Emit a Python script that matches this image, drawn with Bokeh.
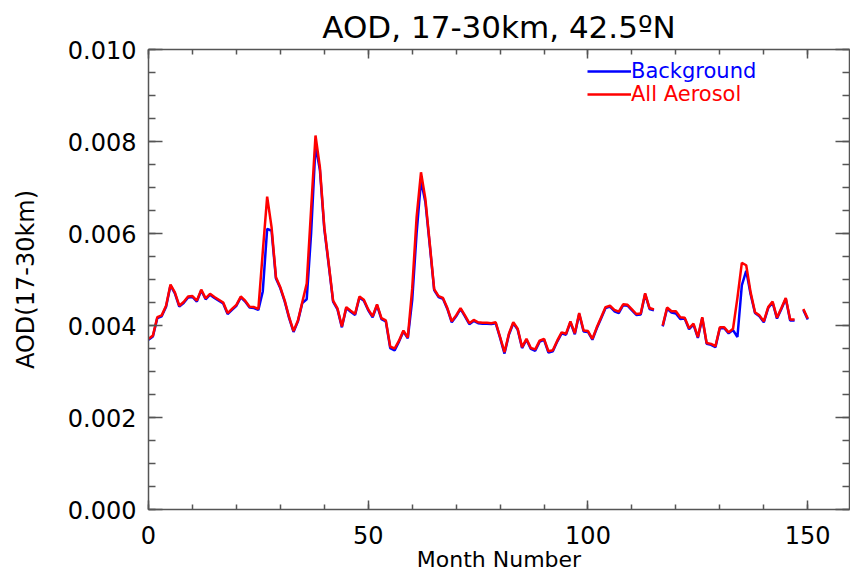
from bokeh.plotting import figure
from bokeh.models import (LinearAxis, Range1d, NumeralTickFormatter, SingleIntervalTicker,
                          Legend, LegendItem)
from bokeh.embed import file_html
from bokeh.resources import INLINE

nan = float("nan")

months = list(range(0, 151))

all_aerosol = [
    0.00371, 0.00378, 0.00418, 0.00422, 0.00443, 0.00489, 0.00472, 0.00443, 0.00451, 0.00463,
    0.00464, 0.00454, 0.00478, 0.00459, 0.00469, 0.00462, 0.00456, 0.00450, 0.00427, 0.00436,
    0.00445, 0.00463, 0.00454, 0.00441, 0.00440, 0.00436, 0.00560, 0.00680, 0.00614, 0.00505,
    0.00483, 0.00454, 0.00418, 0.00388, 0.00411, 0.00451, 0.00491, 0.00653, 0.00813, 0.00744,
    0.00614, 0.00535, 0.00454, 0.00437, 0.00398, 0.00440, 0.00432, 0.00425, 0.00463, 0.00456,
    0.00435, 0.00420, 0.00446, 0.00416, 0.00411, 0.00354, 0.00350, 0.00367, 0.00389, 0.00374,
    0.00480, 0.00635, 0.00733, 0.00675, 0.00578, 0.00479, 0.00464, 0.00460, 0.00438, 0.00409,
    0.00422, 0.00438, 0.00422, 0.00405, 0.00412, 0.00407, 0.00406, 0.00406, 0.00405, 0.00407,
    0.00375, 0.00342, 0.00382, 0.00407, 0.00393, 0.00353, 0.00371, 0.00351, 0.00348, 0.00367,
    0.00371, 0.00344, 0.00346, 0.00367, 0.00385, 0.00382, 0.00409, 0.00383, 0.00427, 0.00389,
    0.00388, 0.00371, 0.00396, 0.00418, 0.00440, 0.00443, 0.00434, 0.00430, 0.00446, 0.00445,
    0.00435, 0.00425, 0.00426, 0.00470, 0.00438, 0.00435, nan, 0.00400, 0.00439, 0.00431,
    0.00431, 0.00418, 0.00417, 0.00394, 0.00404, 0.00375, 0.00418, 0.00362, 0.00360, 0.00355,
    0.00396, 0.00396, 0.00385, 0.00393, 0.00460, 0.00536, 0.00531, 0.00472, 0.00429, 0.00422,
    0.00409, 0.00440, 0.00452, 0.00417, 0.00438, 0.00460, 0.00413, 0.00413, nan, 0.00436,
    0.00415,
]

background = [
    0.00369, 0.00376, 0.00416, 0.00420, 0.00441, 0.00487, 0.00470, 0.00441, 0.00449, 0.00461,
    0.00462, 0.00452, 0.00476, 0.00457, 0.00467, 0.00460, 0.00454, 0.00448, 0.00425, 0.00434,
    0.00443, 0.00461, 0.00452, 0.00439, 0.00438, 0.00434, 0.00474, 0.00610, 0.00606, 0.00502,
    0.00481, 0.00452, 0.00416, 0.00386, 0.00409, 0.00449, 0.00457, 0.00600, 0.00791, 0.00738,
    0.00610, 0.00532, 0.00452, 0.00435, 0.00396, 0.00438, 0.00430, 0.00423, 0.00461, 0.00454,
    0.00433, 0.00418, 0.00444, 0.00414, 0.00409, 0.00351, 0.00346, 0.00365, 0.00387, 0.00372,
    0.00455, 0.00600, 0.00715, 0.00668, 0.00574, 0.00477, 0.00462, 0.00458, 0.00436, 0.00407,
    0.00420, 0.00436, 0.00420, 0.00403, 0.00410, 0.00405, 0.00404, 0.00404, 0.00403, 0.00405,
    0.00373, 0.00339, 0.00380, 0.00405, 0.00391, 0.00351, 0.00369, 0.00349, 0.00345, 0.00365,
    0.00369, 0.00341, 0.00344, 0.00365, 0.00383, 0.00380, 0.00407, 0.00381, 0.00425, 0.00387,
    0.00386, 0.00369, 0.00394, 0.00416, 0.00438, 0.00441, 0.00431, 0.00427, 0.00444, 0.00443,
    0.00433, 0.00423, 0.00424, 0.00468, 0.00436, 0.00433, nan, 0.00398, 0.00437, 0.00428,
    0.00426, 0.00414, 0.00415, 0.00392, 0.00402, 0.00373, 0.00416, 0.00360, 0.00358, 0.00353,
    0.00394, 0.00394, 0.00383, 0.00390, 0.00375, 0.00487, 0.00519, 0.00468, 0.00427, 0.00420,
    0.00407, 0.00438, 0.00450, 0.00415, 0.00436, 0.00458, 0.00411, 0.00411, nan, 0.00434,
    0.00413,
]

title_text = "AOD, 17-30km, 42.5\u00baN"
x_label = "Month Number"
y_label = "AOD(17-30km)"
series_names = ["Background", "All Aerosol"]
series_colors = ["#0000ff", "#ff0000"]

FONT = "DejaVu Sans"
AXIS_COLOR = "#555555"

p = figure(
    width=850, height=579,
    x_range=Range1d(0, 159.5), y_range=Range1d(0, 0.010),
    output_backend="svg", toolbar_location=None,
    min_border_left=148, min_border_right=1, min_border_top=49, min_border_bottom=70,
)
p.background_fill_color = "white"
p.border_fill_color = "white"
p.outline_line_color = None
p.grid.visible = False

p.title.text = title_text
p.title.align = "center"
p.title.text_font = FONT
p.title.text_font_size = "31px"
p.title.text_font_style = "normal"
p.title.text_color = "black"

xticker = SingleIntervalTicker(interval=50, num_minor_ticks=5)
yticker = SingleIntervalTicker(interval=0.002, num_minor_ticks=4)


def style_axis(ax, horizontal, labels=True):
    ax.axis_line_color = AXIS_COLOR
    ax.axis_line_width = 1.5
    ax.major_tick_line_color = AXIS_COLOR
    ax.minor_tick_line_color = AXIS_COLOR
    ax.major_tick_line_width = 1.5
    ax.minor_tick_line_width = 1.5
    ax.major_tick_out = 0
    ax.minor_tick_out = 0
    if horizontal:
        ax.major_tick_in = 9
        ax.minor_tick_in = 5
    else:
        ax.major_tick_in = 14
        ax.minor_tick_in = 7
    ax.major_label_text_font = FONT
    ax.major_label_text_color = "black"
    ax.axis_label_text_font = FONT
    ax.axis_label_text_font_style = "normal"
    ax.axis_label_text_color = "black"
    if not labels:
        ax.major_label_text_font_size = "0px"
        ax.major_label_text_color = None
        ax.major_label_standoff = 0


xb = p.xaxis[0]
xb.ticker = xticker
style_axis(xb, True)
xb.major_label_text_font_size = "24px"
xb.major_label_standoff = 16
xb.axis_label = x_label
xb.axis_label_text_font_size = "22px"
xb.axis_label_standoff = 0

yl = p.yaxis[0]
yl.ticker = yticker
style_axis(yl, False)
yl.formatter = NumeralTickFormatter(format="0.000")
yl.major_label_text_font_size = "24px"
yl.major_label_standoff = 12
yl.axis_label = y_label
yl.axis_label_text_font_size = "24px"
yl.axis_label_standoff = 25

xt = LinearAxis(ticker=SingleIntervalTicker(interval=50, num_minor_ticks=5))
style_axis(xt, True, labels=False)
p.add_layout(xt, "above")

yr = LinearAxis(ticker=SingleIntervalTicker(interval=0.002, num_minor_ticks=4))
style_axis(yr, False, labels=False)
p.add_layout(yr, "right")

r_bg = p.line(months, background, line_color=series_colors[0], line_width=2.5)
r_all = p.line(months, all_aerosol, line_color=series_colors[1], line_width=2.5)

for name, color, rend, loc in [
    (series_names[0], series_colors[0], r_bg, (439, 426)),
    (series_names[1], series_colors[1], r_all, (439, 403)),
]:
    leg = Legend(items=[LegendItem(label=name, renderers=[rend])], location=loc)
    leg.border_line_alpha = 0
    leg.background_fill_alpha = 0
    leg.glyph_width = 44
    leg.glyph_height = 20
    leg.label_height = 20
    leg.label_standoff = 0
    leg.padding = 0
    leg.margin = 0
    leg.spacing = 0
    leg.label_text_font = FONT
    leg.label_text_font_size = "21px"
    leg.label_text_color = color
    p.add_layout(leg)

open("out.html", "w").write(file_html(p, INLINE))
